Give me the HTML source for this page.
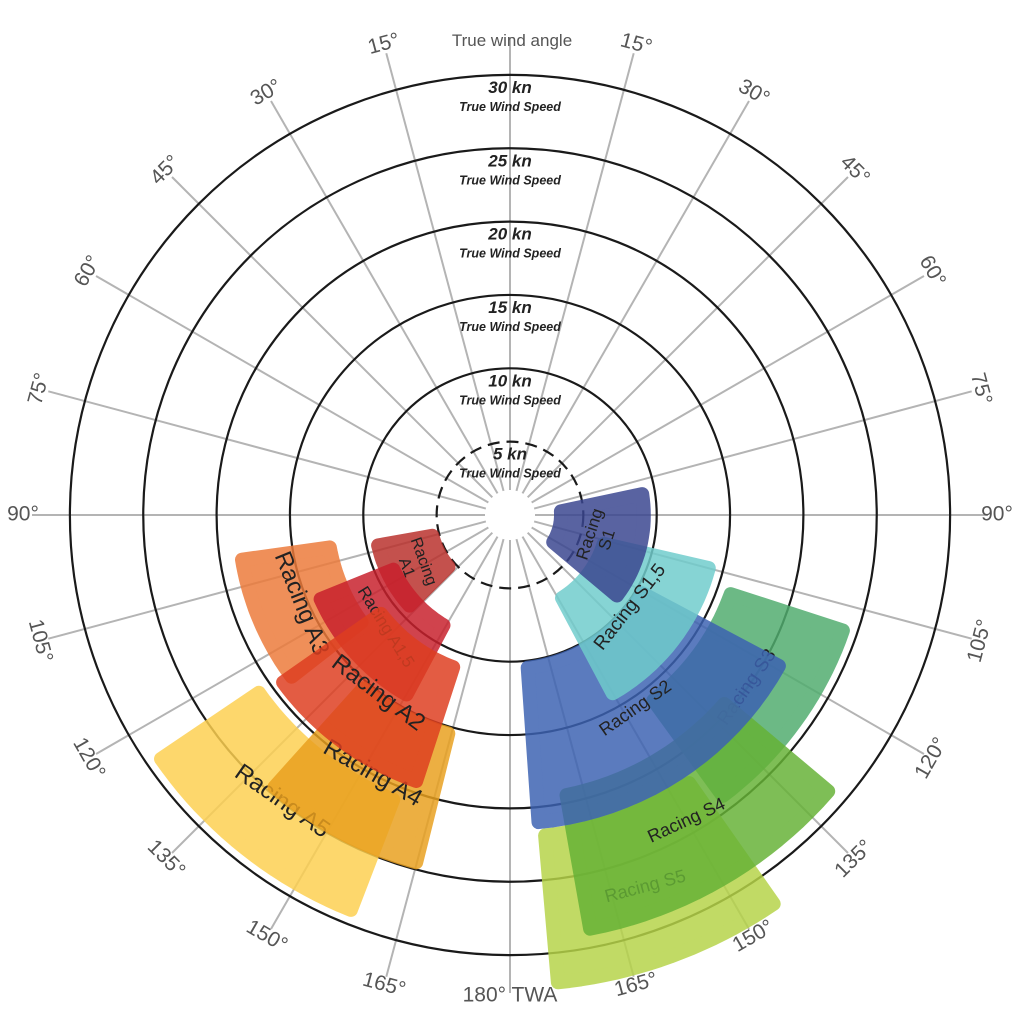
<!DOCTYPE html>
<html><head><meta charset="utf-8"><style>
body{margin:0;background:#fff}
svg{display:block;font-family:"Liberation Sans",sans-serif}
</style></head><body>
<svg id="c" width="1024" height="1024" viewBox="0 0 1024 1024"></svg>
<script>
const ringSpeeds=[5,10,15,20,25,30];
const angleTicks=[15,30,45,60,75,90,105,120,135,150,165];
const sailNames=["Racing A5","Racing A4","Racing A3","Racing A1","Racing A1,5","Racing A2","Racing S5","Racing S3","Racing S4","Racing S2","Racing S1,5","Racing S1"];
const sailSide=[-1,-1,-1,-1,-1,-1,1,1,1,1,1,1];
const sailAngleMin=[124,138,98,100,112,125,145,108,130,118,103,78];
const sailAngleMax=[159,166,128,135,152,162,175,144,170,176,152,130];
const sailTwsMin=[20.5,15,12,5,8.3,10.6,21.5,15.5,19,10,6.2,3];
const sailTwsMax=[29.5,25,19,9.7,14.6,19.7,32.5,24.5,29.2,21.5,14.5,9.6];
const sailColors=["#fdd050","#e9a01e","#ec7a3a","#b9302c","#c8202c","#de3e20","#b6d448","#50ac6e","#66b236","#3c62b2","#70cccc","#3a4690"];
const labelRot=[35,30,68,70,58,37,-15,-55,-25,-35,-52,-72];
const labelSize=[24,24,24,16,17,24,18,19,18,18,19,17];

const svgEl=document.getElementById('c');
const NS='http://www.w3.org/2000/svg';
const cx=510,cy=515,pxPerKn=14.67;
const rS=v=>v*pxPerKn;
function pt(side,deg,r){const a=deg*Math.PI/180;return [cx+side*r*Math.sin(a),cy-r*Math.cos(a)];}
function mk(tag,attrs,parent){const e=document.createElementNS(NS,tag);for(const k in attrs)e.setAttribute(k,attrs[k]);(parent||svgEl).appendChild(e);return e;}

for(let s of [-1,1]){for(let a=0;a<=180;a+=15){
  const [x1,y1]=pt(s,a,25),[x2,y2]=pt(s,a,478);
  const l=mk('line',{x1,y1,x2,y2,stroke:'#b4b4b4','stroke-width':2});
  
  
}}
ringSpeeds.forEach(v=>{
  const c=mk('circle',{cx,cy,r:rS(v),fill:'none',stroke:'#1a1a1a','stroke-width':2.2});
  if(v===5)c.setAttribute('stroke-dasharray','12 7');
  
  
});
sailNames.forEach((n,i)=>{
  const s=sailSide[i],pad=7;
  const r0=rS(sailTwsMin[i])+pad,r1=rS(sailTwsMax[i])-pad;
  const da0=pad/r0*180/Math.PI,da1=pad/r1*180/Math.PI;
  const a0=sailAngleMin[i],a1=sailAngleMax[i];
  const p=[];
  const steps=20;
  for(let k=0;k<=steps;k++){const a=a0+da1+(a1-a0-2*da1)*k/steps;p.push(pt(s,a,r1));}
  for(let k=steps;k>=0;k--){const a=a0+da0+(a1-a0-2*da0)*k/steps;p.push(pt(s,a,r0));}
  const d='M'+p.map(q=>q[0].toFixed(1)+','+q[1].toFixed(1)).join('L')+'Z';
  const g=mk('g',{opacity:0.84});
  
  
  mk('path',{d,fill:sailColors[i],stroke:sailColors[i],'stroke-width':14,'stroke-linejoin':'round'},g);
  const am=(a0+a1)/2,rm=(rS(sailTwsMin[i])+rS(sailTwsMax[i]))/2;
  const [tx,ty]=pt(s,am,rm);
  const t=mk('text',{x:tx,y:ty,'font-size':labelSize[i],fill:'#222','text-anchor':'middle','dominant-baseline':'middle',transform:`rotate(${labelRot[i]} ${tx} ${ty})`});
  
  
  if(n==="Racing A1"||n==="Racing S1"){
    const parts=n.split(' ');
    mk('tspan',{x:tx,dy:-9},t).textContent=parts[0];
    mk('tspan',{x:tx,dy:18},t).textContent=parts[1];
  } else t.textContent=n;
});
ringSpeeds.forEach(v=>{
  const y=cy-rS(v);
  const t1=mk('text',{x:510,y:y+18,'font-size':17,'font-weight':'bold','font-style':'italic','text-anchor':'middle',fill:'#222'});
  t1.textContent=v+' kn';
  
  
  const t2=mk('text',{x:510,y:y+36,'font-size':12.5,'font-weight':'bold','font-style':'italic','text-anchor':'middle',fill:'#222'});
  t2.textContent='True Wind Speed';
  
  
});
for(let s of [-1,1]){angleTicks.forEach(a=>{
  const [x,y]=pt(s,a,487);
  let rot=a<90?a:(a===90?0:a-180);rot*=s;
  const t=mk('text',{x,y,'font-size':21,fill:'#555','text-anchor':'middle','dominant-baseline':'middle',transform:`rotate(${rot} ${x} ${y})`});
  t.textContent=a+'°';
  
  
});}
const titleText=mk('text',{x:512,y:46,'font-size':17,fill:'#555','text-anchor':'middle'});
titleText.textContent='True wind angle';


const bottomText=mk('text',{x:510,y:996,'font-size':21,fill:'#555','text-anchor':'middle','dominant-baseline':'middle'});
bottomText.textContent='180° TWA';


</script>
</body></html>
